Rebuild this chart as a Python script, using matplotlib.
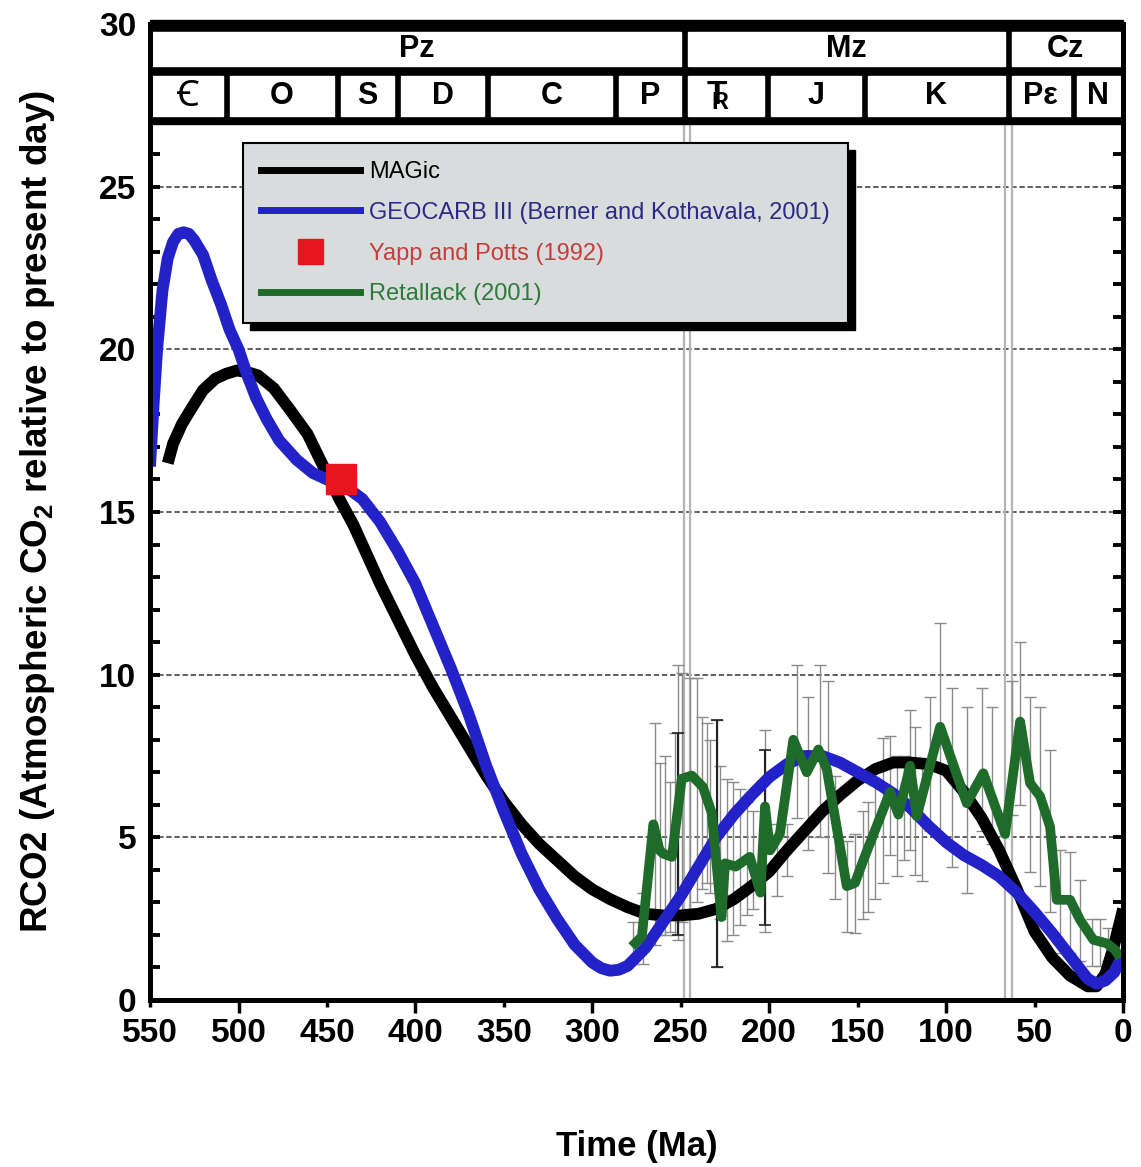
import numpy as np
import matplotlib
matplotlib.use("Agg")
import matplotlib.pyplot as plt
from matplotlib.lines import Line2D
from matplotlib.patches import Rectangle
from matplotlib.ticker import MultipleLocator

plt.rcParams['font.family'] = ['Liberation Sans', 'DejaVu Sans', 'Noto Sans']
plt.rcParams['mathtext.default'] = 'regular'

# MAGic model curve
magic_age = [540, 537, 532, 527, 520, 513, 507, 501, 495, 489, 480, 471, 461, 452, 443,
             435, 430, 420, 410, 400, 390, 380, 370, 360, 350, 340, 330, 320, 310, 300,
             290, 280, 270, 260, 250, 240, 230, 220, 210, 200, 190, 180, 170, 160, 150,
             140, 130, 120, 110, 100, 90, 80, 70, 60, 50, 40, 30, 20, 15, 10, 5, 0]
magic_rco2 = [16.5, 17.1, 17.7, 18.15, 18.75, 19.1, 19.25, 19.35, 19.3, 19.2, 18.8, 18.15, 17.4, 16.4, 15.4,
              14.6, 14.0, 12.8, 11.7, 10.6, 9.6, 8.7, 7.8, 6.9, 6.1, 5.4, 4.8, 4.3, 3.8, 3.4,
              3.1, 2.85, 2.65, 2.6, 2.6, 2.65, 2.8, 3.1, 3.5, 3.95, 4.6, 5.2, 5.8, 6.3, 6.75,
              7.1, 7.3, 7.3, 7.25, 7.05, 6.4, 5.6, 4.6, 3.4, 2.1, 1.3, 0.75, 0.42, 0.42, 0.8, 1.7, 2.8]

# GEOCARB III curve
geocarb_age = [550, 548, 546, 543, 540, 537, 534, 531, 528, 525, 520, 515, 510, 505, 500, 495, 490,
               484, 477, 467, 458, 450, 440, 430, 420, 410, 400, 390, 380, 370, 360, 350,
               340, 330, 320, 310, 300, 295, 290, 285, 280, 270, 260, 250, 240, 230, 220, 210, 200,
               190, 180, 170, 160, 150, 140, 130, 120, 110, 100, 90, 80, 70, 60, 50,
               40, 30, 20, 15, 10, 5, 1]
geocarb_rco2 = [16.4, 18.3, 20.0, 21.8, 22.8, 23.3, 23.55, 23.6, 23.55, 23.35, 22.9, 22.1, 21.4, 20.6, 20.0, 19.2, 18.5,
                17.85, 17.2, 16.6, 16.2, 16.0, 15.8, 15.4, 14.7, 13.8, 12.8, 11.5, 10.2, 8.8, 7.2, 5.8,
                4.5, 3.4, 2.5, 1.7, 1.15, 0.98, 0.9, 0.93, 1.05, 1.6, 2.4, 3.2, 4.1, 5.0, 5.7, 6.3, 6.85,
                7.25, 7.5, 7.5, 7.3, 7.0, 6.7, 6.35, 5.9, 5.35, 4.85, 4.45, 4.15, 3.8, 3.3, 2.7,
                2.05, 1.35, 0.65, 0.5, 0.6, 0.85, 1.3]

# Yapp and Potts (1992)
yapp_age = [442]
yapp_rco2 = [16.0]

# Retallack (2001)
ret_age = [277.7, 272, 265.5, 262, 260, 255, 249.5, 243.8, 237.5, 232.5, 227, 225, 219, 211,
           205, 202.4, 199.5, 194, 186.4, 178.8, 172.2, 167.5, 156.2, 151.5, 146.8, 131.7, 127,
           120.4, 116.6, 103.4, 88.4, 79, 66.7, 58.2, 52.6, 46.9, 41.3, 37.5, 30, 24.3, 16.8,
           9.2, 4.5, 1.5]
ret_rco2 = [1.64, 1.95, 5.4, 4.6, 4.5, 4.4, 6.8, 6.9, 6.55, 5.75, 2.55, 4.2, 4.1, 4.4,
            3.3, 5.95, 4.6, 5.1, 8.0, 7.0, 7.7, 7.1, 3.5, 3.6, 4.3, 6.4, 5.7,
            7.2, 5.65, 8.4, 6.05, 6.97, 5.1, 8.56, 6.67, 6.26, 5.33, 3.08, 3.08, 2.46, 1.85,
            1.74, 1.54, 1.3]

# Retallack error bars (lower / upper)
bar_age = [276.8, 271.2, 264.6, 261.8, 259, 256.1, 253.2, 251.4, 249.5, 244.8, 241, 238.2, 235.4,
           233.5, 229.8, 227.9, 224.1, 220.4, 216.6, 212.8, 209, 202.4, 195.7, 190.1, 184.5,
           177.9, 171.3, 166.6, 162.8, 156.2, 151.5, 146.8, 144, 140, 135.5, 131.7, 128, 124,
           120.4, 117.6, 113.8, 109.1, 103.4, 96.8, 88.3, 79.8, 74.2, 63, 58.2, 52.6, 46.9,
           41.3, 35.6, 30, 24.3, 17.7, 13, 8.3]
bar_lo = [1.1, 1.1, 1.7, 2.0, 2.0, 2.1, 2.0, 1.85, 2.4, 2.8, 3.0, 3.4, 3.6,
          3.3, 1.0, 2.5, 1.8, 2.0, 2.3, 2.6, 2.8, 2.1, 3.2, 3.8, 5.6,
          4.6, 5.0, 3.9, 3.1, 2.1, 2.05, 2.5, 2.7, 3.1, 3.6, 4.45, 3.8, 4.3,
          4.6, 3.85, 3.65, 5.2, 5.0, 4.1, 3.3, 5.2, 4.8, 5.7, 6.0, 3.95, 3.5,
          2.7, 1.45, 1.45, 1.2, 1.05, 1.05, 1.2]
bar_hi = [2.4, 3.3, 8.5, 7.3, 7.5, 6.7, 8.2, 10.3, 10.05, 9.9, 9.9, 8.7, 8.5,
          8.0, 8.6, 7.2, 6.8, 6.7, 6.5, 6.1, 5.8, 8.3, 5.4, 5.4, 10.3,
          9.3, 10.3, 9.8, 6.9, 4.9, 5.1, 5.8, 6.1, 6.6, 8.05, 8.1, 7.5, 7.5,
          8.9, 8.4, 7.4, 9.3, 11.6, 9.6, 9.0, 9.6, 9.0, 9.8, 11.0, 9.3, 9.0,
          7.7, 4.6, 4.55, 3.7, 2.5, 2.5, 2.2]

# darker error bars
dark_age = [251.4, 229.8, 202.4]
dark_lo = [2.0, 1.0, 2.3]
dark_hi = [8.2, 8.6, 7.7]

# time scale header
eras = ['Pz', 'Mz', 'Cz']
era_start = [550, 248, 65]
era_end = [248, 65, 0]
periods = ['\uA792', 'O', 'S', 'D', 'C', 'P', r'T$_{\!\!\!\!R}$', 'J', 'K', 'P\u03b5', 'N']
period_start = [550, 507, 444, 410, 359, 287, 248, 201, 146, 65, 28]
period_end = [507, 444, 410, 359, 287, 248, 201, 146, 65, 28, 0]
boundary_lines = [248.2, 244.8, 66.5, 63.0]
grid_levels = [5, 10, 15, 20, 25]

fig = plt.figure(figsize=(11.41, 11.67), dpi=100)
ax = fig.add_axes([0.1315, 0.1431, 0.8528, 0.8363])

for g in grid_levels:
    ax.axhline(g, color='#555555', lw=1.3, ls=(0, (3, 1.5)), zorder=0.5)
for b in boundary_lines:
    ax.axvline(b, color='#b4b4b4', lw=1.6, zorder=1)

bar_lo = np.array(bar_lo)
bar_hi = np.array(bar_hi)
ax.errorbar(bar_age, bar_lo, yerr=[np.zeros(len(bar_lo)), bar_hi - bar_lo], fmt='none',
            ecolor='#8a8a8a', elinewidth=1.0, capsize=4.5, capthick=1.0, zorder=2)
dark_lo = np.array(dark_lo)
dark_hi = np.array(dark_hi)
ax.errorbar(dark_age, dark_lo, yerr=[np.zeros(len(dark_lo)), dark_hi - dark_lo], fmt='none',
            ecolor='#222222', elinewidth=1.5, capsize=4.5, capthick=1.2, zorder=2.1)

ax.plot(magic_age, magic_rco2, color='black', lw=8.5, solid_joinstyle='round',
        solid_capstyle='butt', zorder=3)
ax.plot(geocarb_age, geocarb_rco2, color='#2222c8', lw=8.5, solid_joinstyle='round',
        solid_capstyle='butt', zorder=3.1)
ax.plot(ret_age, ret_rco2, color='#1f6b2a', lw=7, solid_joinstyle='round',
        solid_capstyle='butt', zorder=3.2)
ax.plot(yapp_age, yapp_rco2, ls='none', marker='s', ms=22, color='#e8141e',
        mec='#e8141e', zorder=3.3)

# header boxes
ax.add_patch(Rectangle((0, 26.93), 550, 3.2, color='black', zorder=4, clip_on=False))
gap = 2.0
for name, s, e in zip(eras, era_start, era_end):
    x0 = e + gap if e > 0 else e
    x1 = s - gap if s < 550 else s
    ax.add_patch(Rectangle((x0, 28.71), x1 - x0, 29.77 - 28.71, color='white', zorder=4.1))
    ax.text((s + e) / 2, 29.24, name, ha='center', va='center', fontsize=22,
            fontweight='bold', zorder=4.2)
for name, s, e in zip(periods, period_start, period_end):
    x0 = e + gap if e > 0 else e
    x1 = s - gap if s < 550 else s
    ax.add_patch(Rectangle((x0, 27.17), x1 - x0, 28.4 - 27.17, color='white', zorder=4.1))
    xc = (s + e) / 2
    size = 22
    if s == 550:
        size = 26
    if s == 248:
        xc = 229
        size = 24
    ax.text(xc, 27.78, name, ha='center', va='center', fontsize=size,
            fontweight='bold', zorder=4.2)

ax.set_xlim(550, 0)
ax.set_ylim(0, 30)

for sp in ax.spines.values():
    sp.set_linewidth(3.6)
    sp.set_zorder(6)

ax.xaxis.set_major_locator(MultipleLocator(100))
ax.xaxis.set_minor_locator(MultipleLocator(50))
ax.xaxis.set_minor_formatter(plt.FuncFormatter(lambda v, p: '%d' % v if v % 100 else ''))
ax.tick_params(axis='x', which='major', direction='out', length=9, width=2.5, pad=4,
               labelsize=24)
ax.tick_params(axis='x', which='minor', direction='out', length=5, width=2.5, pad=8,
               labelsize=24)
ax.yaxis.set_major_locator(MultipleLocator(5))
ax.yaxis.set_minor_locator(MultipleLocator(1))
ax.tick_params(axis='y', which='both', direction='in', length=7, width=2.8, pad=10,
               labelsize=24, right=True)
for lab in ax.get_xticklabels(which='both') + ax.get_yticklabels():
    lab.set_fontweight('bold')

ax.set_ylabel('RCO2 (Atmospheric CO$_2$ relative to present day)', fontsize=26.5,
              fontweight='bold', labelpad=30)
ax.set_xlabel('Time (Ma)', fontsize=25, fontweight='bold', labelpad=58)

handles = [
    Line2D([], [], color='black', lw=5),
    Line2D([], [], color='#2222c8', lw=5),
    Line2D([], [], ls='none', marker='s', ms=18, color='#e8141e'),
    Line2D([], [], color='#1f6b2a', lw=5),
]
labels = ['MAGic', 'GEOCARB III (Berner and Kothavala, 2001)', 'Yapp and Potts (1992)',
          'Retallack (2001)']
leg = ax.legend(handles, labels, loc='upper left', bbox_to_anchor=(0.0956, 0.878),
                borderaxespad=0, fontsize=17, handlelength=4.2, handletextpad=0.4,
                labelspacing=0.8, borderpad=0.75, fancybox=False, framealpha=1,
                facecolor='#d9dcdc', edgecolor='black',
                labelcolor=['black', '#2b2b86', '#c83c3c', '#2f7a3a'])
leg.get_frame().set_linewidth(1.5)
leg.set_zorder(7)

fig.canvas.draw()
bb = leg.get_window_extent()
inv = ax.transAxes.inverted()
(sx0, sy0), (sx1, sy1) = inv.transform([[bb.x0 + 7, bb.y0 - 7], [bb.x1 + 7, bb.y1 - 7]])
ax.add_patch(Rectangle((sx0, sy0), sx1 - sx0, sy1 - sy0, transform=ax.transAxes,
                       color='black', zorder=6.9, clip_on=False))

fig.savefig('out.png', dpi=100)
